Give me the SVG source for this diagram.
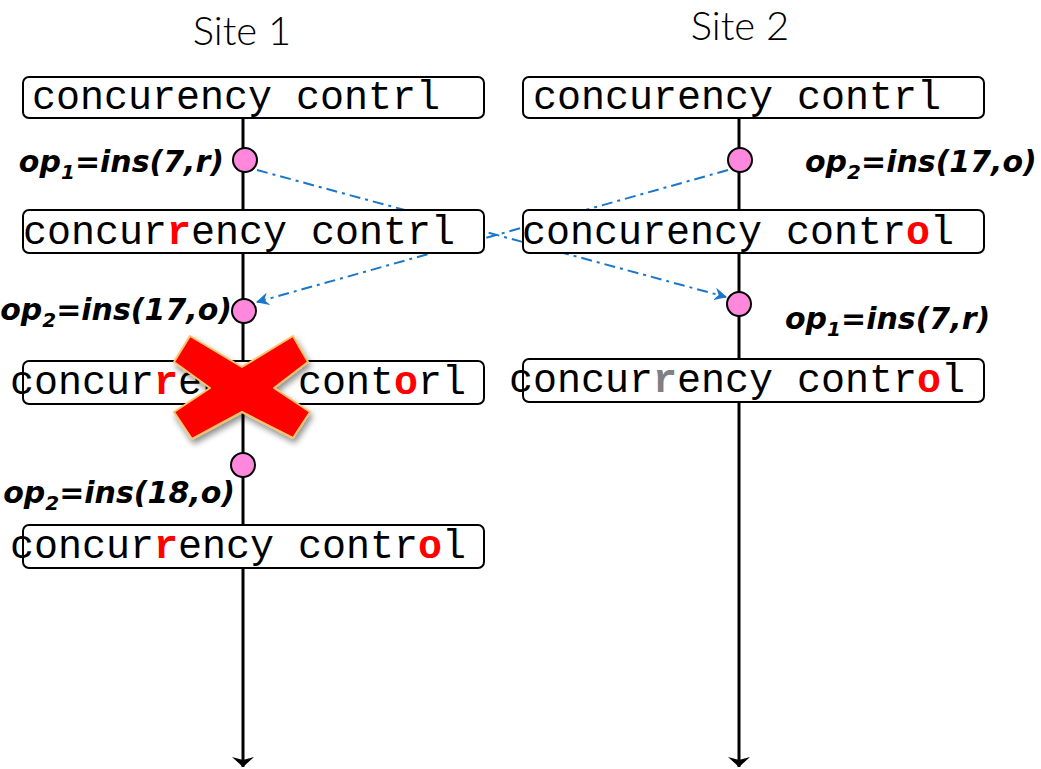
<svg xmlns="http://www.w3.org/2000/svg" width="1041" height="769" viewBox="0 0 1041 769">
  <defs>
    <style>
      .title { font-family: Lato, "Liberation Sans", sans-serif; font-size: 40px; font-weight: 300; fill: #000; }
      .timeline { stroke: #000; stroke-width: 3; fill: none; }
      .box { fill: #fff; stroke: #000; stroke-width: 2; }
      .doc { font-family: "Liberation Mono", "Courier New", monospace; font-size: 40px; fill: #000; }
      .ins { fill: #ff0000; font-weight: bold; }
      .old { fill: #808080; font-weight: bold; }
      .op { fill: #ff88dd; stroke: #000; stroke-width: 2; }
      .lbl { font-family: "DejaVu Sans", sans-serif; font-size: 30px; font-weight: bold; font-style: italic; fill: #000; }
      .sub { font-size: 20px; }
      .msg { stroke: #1a76c8; stroke-width: 2; stroke-dasharray: 11 5 3 5; fill: none; }
    </style>
    <marker id="endArrow" viewBox="0 0 10 22" refX="10" refY="11" markerWidth="10" markerHeight="22" markerUnits="userSpaceOnUse" orient="auto">
      <path d="M0,0 L10,11 L0,22 L3,11 Z" fill="#000"/>
    </marker>
    <marker id="msgArrow" viewBox="0 0 12 12" refX="11" refY="6" markerWidth="13" markerHeight="13" markerUnits="userSpaceOnUse" orient="auto">
      <path d="M0,0 L12,6 L0,12 L4,6 Z" fill="#1a76c8"/>
    </marker>
    <filter id="shadow" x="-20%" y="-20%" width="150%" height="150%">
      <feGaussianBlur in="SourceAlpha" stdDeviation="3"/>
      <feOffset dx="2" dy="4" result="blur"/>
      <feComponentTransfer><feFuncA type="linear" slope="0.45"/></feComponentTransfer>
      <feMerge><feMergeNode/><feMergeNode in="SourceGraphic"/></feMerge>
    </filter>
  </defs>

  <rect width="1041" height="769" fill="#fff"/>

  <!-- site headings -->
  <text class="title" x="242" y="45" text-anchor="middle">Site 1</text>
  <text class="title" x="740" y="40" text-anchor="middle">Site 2</text>

  <!-- timelines -->
  <g id="timelines">
    <line class="timeline" x1="243" y1="118" x2="243" y2="767" marker-end="url(#endArrow)"/>
    <line class="timeline" x1="739" y1="118" x2="739" y2="767" marker-end="url(#endArrow)"/>
  </g>

  <!-- operation messages between sites -->
  <g id="connectors">
    <line class="msg" x1="257" y1="170" x2="726" y2="297" marker-end="url(#msgArrow)"/>
    <line class="msg" x1="728" y1="170" x2="257" y2="302" marker-end="url(#msgArrow)"/>
  </g>

  <!-- Site 1 document states -->
  <g id="s1-state0">
    <rect class="box" x="23" y="77" width="461" height="41" rx="6"/>
    <text class="doc" x="32" y="109">concurency contrl</text>
  </g>
  <g id="s1-state1">
    <rect class="box" x="23" y="210" width="461" height="43" rx="6"/>
    <text class="doc" x="23" y="244">concur<tspan class="ins">r</tspan>ency contrl</text>
  </g>
  <g id="s1-state2">
    <rect class="box" x="23" y="361" width="461" height="43" rx="6"/>
    <text class="doc" x="10" y="394">concur<tspan class="ins">r</tspan>ency cont<tspan class="ins">o</tspan>rl</text>
  </g>
  <g id="s1-state3">
    <rect class="box" x="23" y="525" width="461" height="43" rx="6"/>
    <text class="doc" x="10" y="558">concur<tspan class="ins">r</tspan>ency contr<tspan class="ins">o</tspan>l</text>
  </g>

  <!-- Site 2 document states -->
  <g id="s2-state0">
    <rect class="box" x="523" y="77" width="461" height="41" rx="6"/>
    <text class="doc" x="533" y="109">concurency contrl</text>
  </g>
  <g id="s2-state1">
    <rect class="box" x="523" y="210" width="461" height="43" rx="6"/>
    <text class="doc" x="522" y="244">concurency contr<tspan class="ins">o</tspan>l</text>
  </g>
  <g id="s2-state2">
    <rect class="box" x="523" y="359" width="461" height="43" rx="6"/>
    <text class="doc" x="509" y="392">concur<tspan class="old">r</tspan>ency contr<tspan class="ins">o</tspan>l</text>
  </g>

  <!-- operations -->
  <g id="s1-op1">
    <circle class="op" cx="245" cy="160" r="12"/>
    <text class="lbl" x="224" y="172" text-anchor="end">op<tspan class="sub" dy="7">1</tspan><tspan dy="-7">=ins(7,r)</tspan></text>
  </g>
  <g id="s2-op2">
    <circle class="op" cx="740" cy="160" r="12"/>
    <text class="lbl" x="805" y="172">op<tspan class="sub" dy="7">2</tspan><tspan dy="-7">=ins(17,o)</tspan></text>
  </g>
  <g id="s1-op2">
    <circle class="op" cx="244" cy="311" r="12"/>
    <text class="lbl" x="232" y="320" text-anchor="end">op<tspan class="sub" dy="7">2</tspan><tspan dy="-7">=ins(17,o)</tspan></text>
  </g>
  <g id="s2-op1">
    <circle class="op" cx="739" cy="304" r="12"/>
    <text class="lbl" x="785" y="329">op<tspan class="sub" dy="7">1</tspan><tspan dy="-7">=ins(7,r)</tspan></text>
  </g>

  <!-- rejected state marker -->
  <g id="reject-mark" filter="url(#shadow)">
    <polygon points="174,362 190,336 242,367 293,336 308,362 274,388 310,412 293,438 242,412 192,439 174,412 210,388" fill="#ff0000" stroke="#f7c36b" stroke-width="2" stroke-linejoin="round"/>
  </g>

  <g id="s1-op2b">
    <circle class="op" cx="243" cy="465" r="12"/>
    <text class="lbl" x="235" y="503" text-anchor="end">op<tspan class="sub" dy="7">2</tspan><tspan dy="-7">=ins(18,o)</tspan></text>
  </g>
</svg>
